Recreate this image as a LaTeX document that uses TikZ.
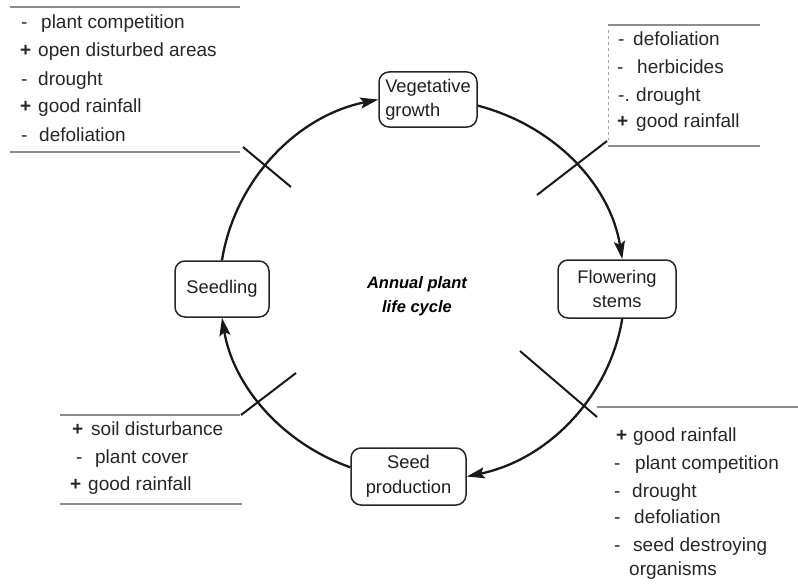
\documentclass[tikz,border=0pt]{standalone}
\usepackage{fontspec}
\setmainfont{Liberation Sans}
\usetikzlibrary{arrows.meta}
% sign followed by a fixed gap before the item text
\newcommand\sgn[2]{\makebox[#1pt][l]{#2}}
\begin{document}
\begin{tikzpicture}[x=1pt,y=1pt,
  stage/.style={draw=black!85, line width=1.5pt, rounded corners=10pt, fill=white,
    inner sep=2pt, font=\fontsize{18.3}{24}\selectfont, text=black!88, align=center},
  flow/.style={line width=2.3pt, draw=black!90,
    -{Stealth[length=18pt,width=11pt,inset=3.5pt]}},
  barrier/.style={line width=2pt, draw=black!90},
  entry/.style={anchor=base west, inner sep=0pt, font=\fontsize{19}{22}\selectfont, text=black!85},
  listrule/.style={draw=black!45, line width=1.2pt},
  cyclelabel/.style={font=\fontsize{16.5}{24}\selectfont\bfseries\itshape, align=center, text=black}
]
\useasboundingbox (0,0) rectangle (798,-586);

% life-cycle stages
\node[stage, minimum width=98pt, minimum height=55pt, align=left] (veg) at (428,-99.5) {Vegetative\\growth};
\node[stage, minimum width=118pt, minimum height=58pt] (flower) at (617,-289) {Flowering\\stems};
\node[stage, minimum width=115pt, minimum height=57pt, font=\fontsize{18.3}{25}\selectfont] (seed) at (408.5,-476.5) {Seed\\production};
\node[stage, minimum width=94pt, minimum height=56pt] (seedling) at (222,-289) {Seedling};

\node[cyclelabel] (life) at (417,-296) {Annual plant\\life cycle};

% cycle arrows
\draw[flow] (seedling.north) to[out=81, in=191.5, out distance=79pt, in distance=85pt] (veg.west);
\draw[flow] (veg.-7) to[out=-14.7, in=99.1, out distance=79.5pt, in distance=75.3pt] (flower.80);
\draw[flow] (flower.-80) to[out=-99.4, in=11.7, out distance=78.8pt, in distance=83.4pt] (seed.east);
\draw[flow] (seed.171) to[out=160.5, in=279.4, out distance=72.7pt, in distance=68.9pt] (seedling.south);

% barrier marks across the cycle
\draw[barrier] (243,-147) -- (291,-187);
\draw[barrier] (537,-195) -- (607,-141);
\draw[barrier] (520,-351) -- (597,-417);
\draw[barrier] (241,-415) -- (296,-373);

% factors before vegetative growth
\draw[listrule] (10,-7) -- (240,-7);
\draw[listrule] (10,-152) -- (240,-152);
\node[entry] (tl1) at (21,-29) {\sgn{20}{-}plant competition};
\node[entry] (tl2) at (20,-57) {\sgn{18}{\textbf{+}}open disturbed areas};
\node[entry] (tl3) at (21,-85) {\sgn{17}{-}drought};
\node[entry] (tl4) at (20,-113) {\sgn{18}{\textbf{+}}good rainfall};
\node[entry] (tl5) at (21,-141) {\sgn{18}{-}defoliation};

% factors before flowering
\draw[listrule] (608,-25) -- (760,-25);
\draw[listrule] (608,-146) -- (760,-146);
\draw[draw=black!35, line width=0.8pt, dashed] (608,-30) -- (608,-140);
\node[entry] (tr1) at (618,-46) {\sgn{15}{-}defoliation};
\node[entry] (tr2) at (617,-74) {\sgn{20}{-}herbicides};
\node[entry] (tr3) at (618,-101) {\sgn{18}{-.}drought};
\node[entry] (tr4) at (617,-128) {\sgn{19}{\textbf{+}}good rainfall};

% factors before seedling
\draw[listrule] (60,-415) -- (240,-415);
\draw[listrule] (60,-504) -- (242,-504);
\node[entry] (ll1) at (72,-435) {\sgn{19}{\textbf{+}}soil disturbance};
\node[entry] (ll2) at (76,-463) {\sgn{19}{-}plant cover};
\node[entry] (ll3) at (70,-490) {\sgn{18}{\textbf{+}}good rainfall};

% factors before seed production
\draw[listrule] (597,-407) -- (798,-407);
\node[entry] (lr1) at (616,-441) {\sgn{17}{\textbf{+}}good rainfall};
\node[entry] (lr2) at (614,-469) {\sgn{21}{-}plant competition};
\node[entry] (lr3) at (614,-497) {\sgn{18}{-}drought};
\node[entry] (lr4) at (614,-523) {\sgn{20}{-}defoliation};
\node[entry] (lr5) at (614,-551) {\sgn{19}{-}seed destroying};
\node[entry] (lr6) at (629,-575) {organisms};
\end{tikzpicture}
\end{document}
